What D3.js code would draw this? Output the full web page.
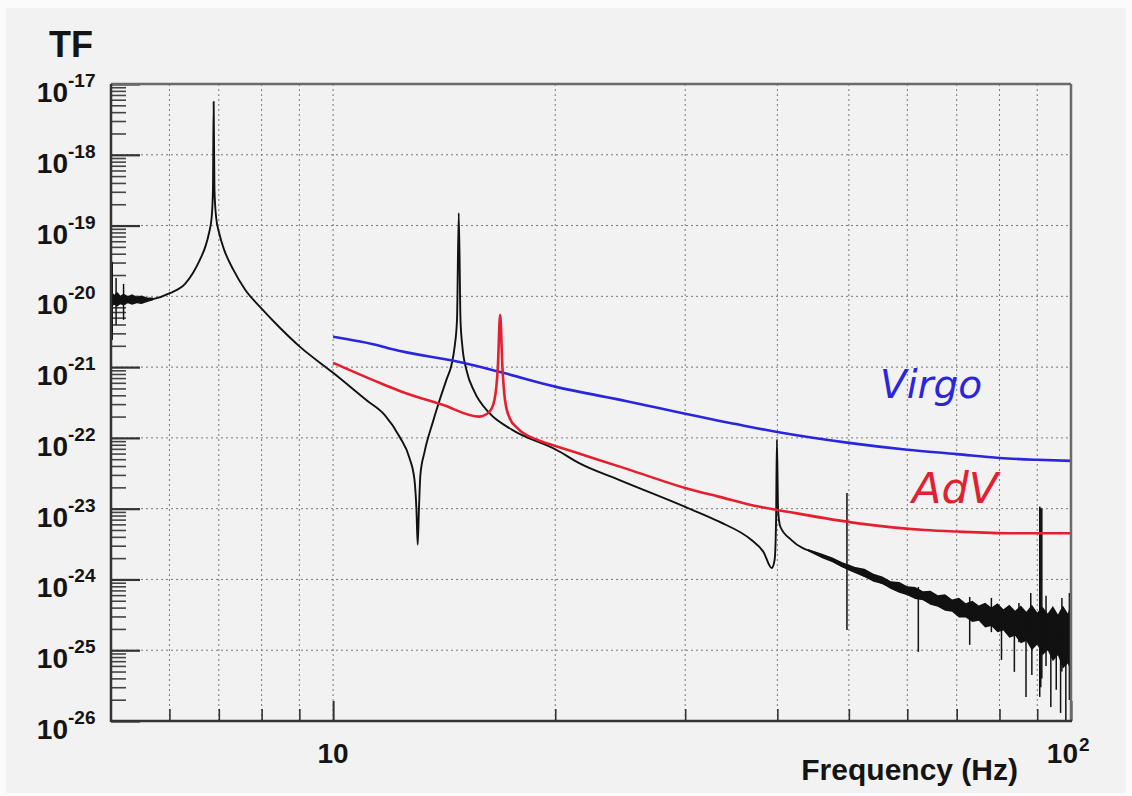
<!DOCTYPE html>
<html><head><meta charset="utf-8">
<script src="https://cdn.jsdelivr.net/npm/d3@7"></script>
<style>html,body{margin:0;padding:0;background:#fbfbfb;} svg{display:block;}</style>
</head><body>
<svg id="chart" width="1132" height="796"></svg>
<script>
// ---------- data ----------
const yExponents = [-17, -18, -19, -20, -21, -22, -23, -24, -25, -26];
const xGridValues = [6, 7, 8, 9, 10, 20, 30, 40, 50, 60, 70, 80, 90];
const xMajorTicks = [10, 100];
const xMinorTicks = [6, 7, 8, 9, 20, 30, 40, 50, 60, 70, 80, 90];
const xTickLabels = [{v: 10, base: "10", sup: ""}, {v: 100, base: "10", sup: "2"}];

// Virgo sensitivity curve (blue)
const virgo = [
  [10, 2.68e-21], [11.56, 2.0e-21], [12, 1.8e-21], [15, 1.15e-21], [17, 8.3e-22],
  [20, 5.3e-22], [25, 3.3e-22], [30, 2.2e-22], [33.3, 1.75e-22], [35, 1.58e-22],
  [40, 1.21e-22], [50, 8.5e-23], [60, 6.8e-23], [70, 5.9e-23], [80, 5.2e-23],
  [90, 4.9e-23], [100, 4.73e-23]
];

// Advanced Virgo curve (red)
const adv = [
  [10, 1.15e-21], [11.56, 6.0e-22], [12.31, 4.6e-22], [14.07, 2.93e-22], [15.78, 2.0e-22],
  [16.28, 2.33e-22], [16.54, 3.4e-22], [16.72, 1.0e-21], [16.84, 5.5e-21], [16.96, 1.0e-21],
  [17.1, 3.4e-22], [17.35, 1.9e-22], [17.8, 1.35e-22], [19, 9.2e-23], [20, 7.7e-23],
  [22, 5.6e-23], [25, 3.65e-23], [30, 1.96e-23], [33.3, 1.48e-23], [37.7, 1.07e-23],
  [40, 9.6e-24], [51.5, 6.2e-24], [63.4, 5.0e-24], [70, 4.75e-24], [82.9, 4.5e-24],
  [90, 4.5e-24], [100, 4.5e-24]
];

// Measured transfer function (black)
const measured = [
  [5.0, 8.9e-21], [5.25, 8.4e-21], [5.45, 8.5e-21], [5.65, 8.9e-21], [6.02, 1.12e-20],
  [6.30, 1.5e-20], [6.46, 2.15e-20], [6.60, 3.3e-20], [6.71, 5.0e-20], [6.79, 7.9e-20],
  [6.845, 1.3e-19], [6.873, 3.2e-19], [6.888, 5.6e-18], [6.905, 3.2e-19], [6.942, 1.3e-19],
  [7.006, 7.9e-20], [7.12, 4.5e-20], [7.32, 2.4e-20], [7.60, 1.24e-20], [7.96, 7.1e-21],
  [8.47, 3.6e-21], [9.02, 1.93e-21], [10.0, 8.3e-22], [11.1, 3.4e-22], [11.75, 2.1e-22],
  [12.31, 1.03e-22], [12.69, 5.2e-23], [12.89, 2.55e-23], [12.97, 9.6e-24], [13.02, 3.1e-24],
  [13.07, 9.6e-24], [13.13, 3.0e-23], [13.30, 6.3e-23], [13.64, 1.63e-22], [13.94, 3.4e-22],
  [14.24, 6.6e-22], [14.47, 1.08e-21], [14.61, 1.93e-21], [14.72, 4.7e-21], [14.80, 1.5e-19],
  [14.88, 4.7e-21], [14.97, 1.93e-21], [15.16, 9.1e-22], [15.54, 4.5e-22], [16.28, 2.25e-22],
  [17.49, 1.3e-22], [20.06, 6.8e-23], [21.55, 4.4e-23], [24.4, 2.55e-23], [30.0, 1.06e-23],
  [33.3, 6.6e-24], [36.9, 3.6e-24], [38.3, 2.45e-24], [39.3, 1.45e-24], [39.66, 1.9e-24],
  [39.84, 6.9e-24], [39.94, 9.4e-23], [40.09, 9.6e-24], [40.36, 5.6e-24], [41.8, 3.6e-24],
  [46.4, 2.1e-24], [49.6, 1.45e-24], [54.2, 9.8e-25], [60.2, 6.4e-25], [66, 4.65e-25],
  [70.3, 3.7e-25], [76, 3.05e-25], [82.1, 2.43e-25], [86, 2.2e-25], [90.2, 2.06e-25],
  [94.5, 1.81e-25], [97.5, 1.7e-25], [100, 1.64e-25]
];

// noise envelopes of the measured curve: [frequency, upper, lower]
const noiseLowBand = [
  [5.0, 1.2e-20, 7.0e-21], [5.05, 1.05e-20, 7.6e-21], [5.1, 1.15e-20, 7.2e-21], [5.15, 1.02e-20, 7.8e-21],
  [5.2, 1.1e-20, 7.4e-21], [5.27, 1.0e-20, 8.0e-21], [5.34, 1.07e-20, 7.6e-21], [5.42, 9.8e-21, 8.0e-21],
  [5.5, 1.03e-20, 7.8e-21], [5.6, 9.6e-21, 8.3e-21], [5.7, 9.6e-21, 8.8e-21]
];
const noiseHighBand = [
  [44.0, 2.7e-24, 2.5e-24], [46.0, 2.3e-24, 2.0e-24], [47.5, 2.05e-24, 1.75e-24], [49.0, 1.75e-24, 1.48e-24],
  [51.0, 1.5e-24, 1.27e-24], [52.5, 1.42e-24, 1.08e-24], [54.0, 1.2e-24, 9.3e-25], [55.5, 1.1e-24, 8.6e-25],
  [57.0, 9.4e-25, 7.3e-25], [58.5, 9.2e-25, 6.5e-25], [60.0, 8.0e-25, 6.0e-25], [61.5, 7.8e-25, 5.3e-25],
  [63.0, 6.8e-25, 5.1e-25], [64.5, 6.9e-25, 4.4e-25], [66.0, 6.0e-25, 4.1e-25], [67.5, 6.2e-25, 3.6e-25],
  [69.0, 5.2e-25, 3.5e-25], [70.5, 5.5e-25, 2.9e-25], [72.0, 4.6e-25, 2.9e-25], [73.5, 5.0e-25, 2.5e-25],
  [75.0, 4.3e-25, 2.6e-25], [76.5, 4.7e-25, 2.1e-25], [78.0, 4.0e-25, 2.2e-25], [79.5, 4.6e-25, 1.8e-25],
  [81.0, 3.8e-25, 1.9e-25], [82.5, 4.4e-25, 1.5e-25], [84.0, 3.6e-25, 1.6e-25], [85.5, 4.3e-25, 1.25e-25],
  [87.0, 3.5e-25, 1.35e-25], [88.5, 4.4e-25, 1.0e-25], [90.0, 3.4e-25, 1.2e-25], [91.5, 4.1e-25, 8.5e-26],
  [93.0, 3.3e-25, 1.0e-25], [94.5, 4.2e-25, 7.0e-26], [96.0, 3.2e-25, 8.5e-26], [97.5, 4.3e-25, 5.5e-26],
  [99.0, 3.3e-25, 6.5e-26], [100, 4.5e-25, 5.0e-26]
];

// narrow lines in the measured curve: [frequency, top, bottom]
const spikes = [
  [5.02, 3.08e-20, 2.43e-21], [5.08, 1.82e-20, 3.95e-21], [5.2, 1.5e-20, 4.66e-21],
  [49.7, 1.67e-23, 1.93e-25], [62.1, 7.8e-25, 9.5e-26], [72.9, 5.66e-25, 1.19e-25],
  [78, 5.48e-25, 1.8e-25], [80.5, 3.5e-25, 7.3e-26], [83.8, 3.15e-25, 4.95e-26],
  [85, 4.66e-25, 1.3e-25], [86.9, 3.15e-25, 2.19e-26], [88.2, 6.44e-25, 1.5e-25],
  [88.5, 3.0e-25, 4.47e-26], [90.7, 1.07e-23, 2.19e-26], [91.0, 1.03e-23, 3.0e-26],
  [91.3, 1.0e-23, 4.0e-26],
  [92.5, 5.9e-25, 6e-26], [93.9, 3.0e-25, 1.58e-26], [95.5, 3.15e-25, 2.76e-26],
  [96.8, 3.0e-25, 1.3e-26], [97.2, 5.48e-25, 5e-26], [98.4, 3.0e-25, 1.0e-26],
  [99.5, 6.44e-25, 1.98e-26]
];

// ---------- drawing ----------
const W = 1132, H = 796;
const pLeft = 111, pRight = 1071, pTop = 84, pBottom = 721;
const svg = d3.select("#chart");
const font = "'Liberation Sans', Arial, Helvetica, sans-serif";

svg.append("rect").attr("x", 0).attr("y", 0).attr("width", W).attr("height", H).attr("fill", "#fbfbfb");
svg.append("rect").attr("x", 6).attr("y", 8).attr("width", 1120).attr("height", 785).attr("fill", "#f2f2f2");

const x = d3.scaleLog().domain([5, 100]).range([pLeft, pRight]);
const y = d3.scaleLog().domain([1e-26, 1e-17]).range([pBottom, pTop]);

const grid = svg.append("g").attr("stroke", "#7a7a7a").attr("stroke-width", 1).attr("stroke-dasharray", "2,3");
grid.selectAll("line.v").data(xGridValues).join("line").attr("class", "v")
  .attr("x1", d => x(d)).attr("x2", d => x(d)).attr("y1", pTop).attr("y2", pBottom);
grid.selectAll("line.h").data(yExponents.slice(1, -1)).join("line").attr("class", "h")
  .attr("x1", pLeft).attr("x2", pRight).attr("y1", d => y(Math.pow(10, d))).attr("y2", d => y(Math.pow(10, d)));

// y ticks (inside, to the right)
const yMinor = [];
yExponents.slice(1).forEach(e => { for (let m = 2; m <= 9; m++) yMinor.push(m * Math.pow(10, e)); });
svg.append("g").attr("transform", `translate(${pLeft},0)`)
  .call(d3.axisLeft(y).tickValues(yMinor).tickSize(-15).tickFormat(""))
  .call(g => g.select(".domain").remove())
  .call(g => g.selectAll("line").attr("stroke", "#444").attr("stroke-width", 1.6));
svg.append("g").attr("transform", `translate(${pLeft},0)`)
  .call(d3.axisLeft(y).tickValues(yExponents.map(e => Math.pow(10, e))).tickSize(-29).tickFormat(""))
  .call(g => g.select(".domain").remove())
  .call(g => g.selectAll("line").attr("stroke", "#333").attr("stroke-width", 2.2));

// x ticks (inside, upward)
svg.append("g").attr("transform", `translate(0,${pBottom})`)
  .call(d3.axisBottom(x).tickValues(xMinorTicks).tickSize(-12).tickFormat(""))
  .call(g => g.select(".domain").remove())
  .call(g => g.selectAll("line").attr("stroke", "#333").attr("stroke-width", 1.6));
svg.append("g").attr("transform", `translate(0,${pBottom})`)
  .call(d3.axisBottom(x).tickValues(xMajorTicks).tickSize(-20).tickFormat(""))
  .call(g => g.select(".domain").remove())
  .call(g => g.selectAll("line").attr("stroke", "#333").attr("stroke-width", 2));

// curves
const line = d3.line().x(d => x(d[0])).y(d => y(d[1]));
const smooth = d3.line().x(d => x(d[0])).y(d => y(d[1])).curve(d3.curveMonotoneX);
const area = d3.area().x(d => x(d[0])).y0(d => y(d[2])).y1(d => y(d[1]));

const plot = svg.append("g");
plot.append("path").datum(noiseLowBand).attr("d", area).attr("fill", "#111");
plot.append("path").datum(noiseHighBand).attr("d", area).attr("fill", "#111");
plot.selectAll("path.spike").data(spikes).join("path").attr("class", "spike")
  .attr("d", d => line([[d[0], d[1]], [d[0], d[2]]]))
  .attr("stroke", "#111").attr("stroke-width", 1.5).attr("fill", "none");
plot.append("path").datum(measured).attr("d", smooth)
  .attr("fill", "none").attr("stroke", "#111").attr("stroke-width", 1.9).attr("stroke-linejoin", "round");
plot.append("path").datum(virgo).attr("d", smooth)
  .attr("fill", "none").attr("stroke", "#2b25dc").attr("stroke-width", 2.6);
plot.append("path").datum(adv).attr("d", smooth)
  .attr("fill", "none").attr("stroke", "#e3202f").attr("stroke-width", 2.6).attr("stroke-linejoin", "round");

// frame
svg.append("line").attr("x1", pLeft).attr("x2", pRight).attr("y1", pTop).attr("y2", pTop).attr("stroke", "#6a6a6a").attr("stroke-width", 2.5);
svg.append("line").attr("x1", pRight).attr("x2", pRight).attr("y1", pTop).attr("y2", pBottom).attr("stroke", "#6a6a6a").attr("stroke-width", 2.5);
svg.append("line").attr("x1", pLeft).attr("x2", pLeft).attr("y1", pTop).attr("y2", pBottom + 1).attr("stroke", "#333").attr("stroke-width", 2.5);
svg.append("line").attr("x1", pLeft).attr("x2", pRight + 1).attr("y1", pBottom).attr("y2", pBottom).attr("stroke", "#333").attr("stroke-width", 2.5);

// y labels
const yl = svg.append("g").attr("font-family", font).attr("font-weight", "bold").attr("fill", "#141414");
yExponents.forEach(e => {
  const py = y(Math.pow(10, e));
  yl.append("text").attr("x", 68).attr("y", py + 18).attr("text-anchor", "end").attr("font-size", 28).text("10");
  yl.append("text").attr("x", 68).attr("y", py + 3).attr("font-size", 19).text(String(e));
});
// x labels
xTickLabels.forEach(t => {
  if (t.sup) {
    yl.append("text").attr("x", x(t.v) + 7).attr("y", 763).attr("text-anchor", "end").attr("font-size", 28).text(t.base);
    yl.append("text").attr("x", x(t.v) + 8).attr("y", 751).attr("font-size", 19).text(t.sup);
  } else {
    yl.append("text").attr("x", x(t.v)).attr("y", 763).attr("text-anchor", "middle").attr("font-size", 28).text(t.base);
  }
});
yl.append("text").attr("x", 1018).attr("y", 780).attr("text-anchor", "end").attr("font-size", 30).text("Frequency (Hz)");
yl.append("text").attr("x", 49).attr("y", 57).attr("font-size", 36).text("TF");

// curve labels
svg.append("text").attr("x", 880).attr("y", 398).attr("font-family", "'DejaVu Sans', sans-serif").attr("font-style", "oblique")
  .attr("font-size", 39).attr("fill", "#2b25dc").text("Virgo");
svg.append("text").attr("x", 912).attr("y", 503).attr("font-family", "'DejaVu Sans', sans-serif").attr("font-style", "oblique")
  .attr("font-size", 43).attr("fill", "#e3202f").text("AdV");
</script>
</body></html>
